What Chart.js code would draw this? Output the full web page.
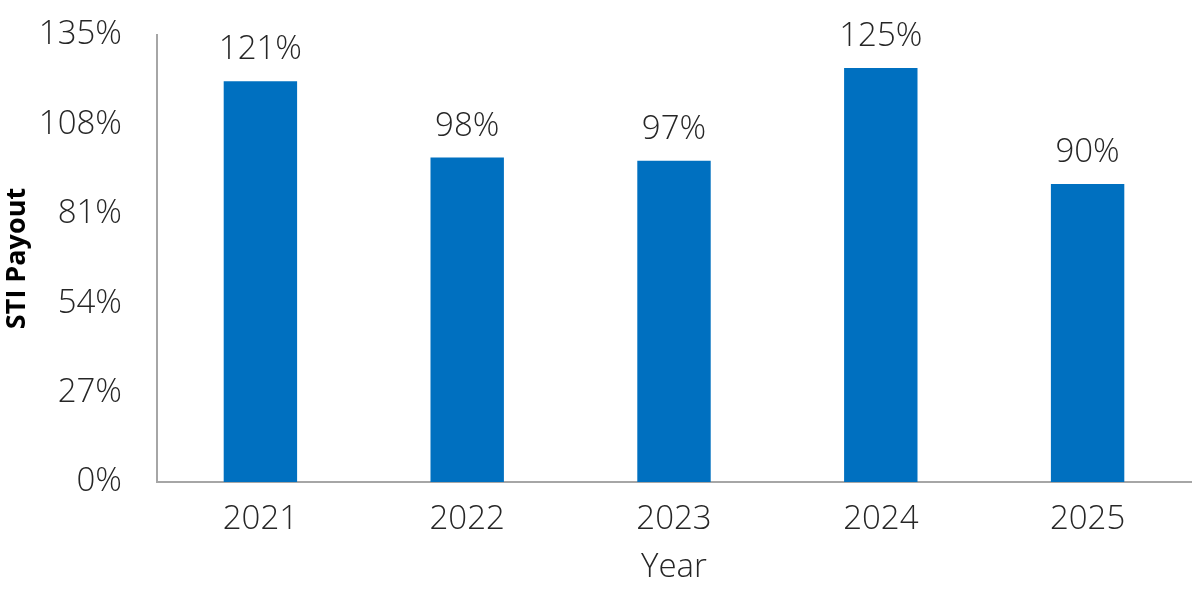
<!DOCTYPE html>
<html>
<head>
<meta charset="utf-8">
<script src="https://cdn.jsdelivr.net/npm/chart.js@4"></script>
<style>
  html, body { margin: 0; padding: 0; background: #fff; }
  #wrap { width: 1200px; height: 591px; }
</style>
</head>
<body>
<div id="wrap"><canvas id="myChart"></canvas></div>
<script>
var years = ["2021", "2022", "2023", "2024", "2025"];
var payout = [121, 98, 97, 125, 90];
var yTicks = [0, 27, 54, 81, 108, 135];

var fontFam = "'Open Sans', 'Noto Sans', sans-serif";
var textCol = "#262626";

// labels above each bar
var barLabels = {
	id: "barLabels",
	afterDatasetsDraw: function(chart) {
		var ctx = chart.ctx;
		var meta = chart.getDatasetMeta(0);
		ctx.save();
		ctx.font = "300 33px " + fontFam;
		ctx.fillStyle = textCol;
		ctx.textAlign = "center";
		ctx.textBaseline = "alphabetic";
		meta.data.forEach(function(bar, i) {
			ctx.fillText(payout[i] + "%", bar.x, bar.y - 22);
		});
		ctx.restore();
	}
};

var ctx = document.getElementById("myChart").getContext("2d");
var myChart = new Chart(ctx, {
	type: "bar",
	data: {
		labels: years,
		datasets: [{
			data: payout,
			backgroundColor: "#0070C0",
			categoryPercentage: 1,
			barPercentage: 0.355
		}]
	},
	options: {
		responsive: true,
		maintainAspectRatio: false,
		animation: false,
		layout: { padding: { top: 35, right: 9, left: 0, bottom: 0 } },
		plugins: {
			legend: { display: false },
			tooltip: { enabled: false }
		},
		scales: {
			x: {
				grid: { display: false, drawTicks: false },
				border: { color: "#a6a6a6", width: 2 },
				ticks: {
					color: textCol,
					padding: 18,
					font: { family: fontFam, size: 33, weight: "300" }
				},
				title: {
					display: true,
					text: "Year",
					color: textCol,
					padding: { top: 0, bottom: 4 },
					font: { family: fontFam, size: 33, weight: "300" }
				},
				afterFit: function(scale) { scale.height = 109; }
			},
			y: {
				min: 0,
				max: 135,
				afterBuildTicks: function(scale) {
					scale.ticks = yTicks.map(function(v) { return { value: v }; });
				},
				grid: { display: false, drawTicks: false },
				border: { color: "#a6a6a6", width: 2 },
				ticks: {
					color: textCol,
					padding: 35,
					font: { family: fontFam, size: 33, weight: "300" },
					callback: function(v) { return v + "%"; }
				},
				title: {
					display: true,
					text: "STI Payout",
					color: "#000",
					padding: { top: 1, bottom: 0 },
					font: { family: fontFam, size: 27, weight: "bold" }
				},
				afterFit: function(scale) {
					scale.width = 157;
					// keep the plot top fixed by the layout padding
					scale.paddingTop = 0;
					scale.paddingBottom = 0;
				}
			}
		}
	},
	plugins: [barLabels]
});
</script>
</body>
</html>
